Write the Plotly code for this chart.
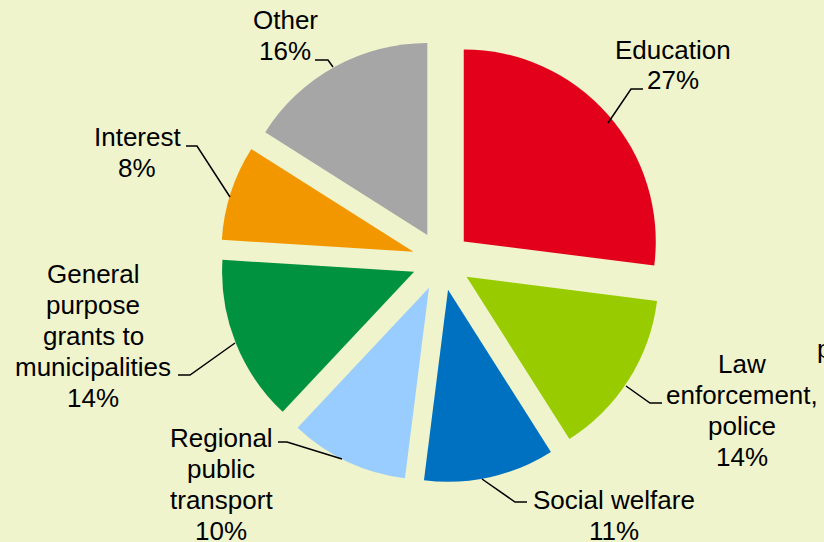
import plotly.graph_objects as go

# Slice data, clockwise from 12 o'clock
categories = [
    "Education",
    "Law enforcement, police",
    "Social welfare",
    "Regional public transport",
    "General purpose grants to municipalities",
    "Interest",
    "Other",
]
shares = [27, 14, 11, 10, 14, 8, 16]
colors = ["#E2001A", "#99CC00", "#0070C0", "#99CCFF", "#00923F", "#F39700", "#A6A6A6"]

# how each label is wrapped (the % line is added from shares)
label_lines = [
    ["Education"],
    ["Law", "enforcement,", "police"],
    ["Social welfare"],
    ["Regional", "public", "transport"],
    ["General", "purpose", "grants to", "municipalities"],
    ["Interest"],
    ["Other"],
]

W, H = 824, 542
BG = "#EFF4CD"
FONT = "Liberation Sans, Arial, sans-serif"


def px(x):
    return x / W


def py(y):
    return 1 - y / H


# label block centres and leader lines, in pixels
label_pos = [(673, 65), (742, 410), (614, 515), (221, 484), (93, 336), (137, 153), (285, 36)]
leaders = [
    [(643, 89), (631, 89), (608, 123)],
    [(662, 403), (650, 403), (626, 386)],
    [(527, 502), (515, 502), (482, 479)],
    [(278, 442), (287, 442), (342, 459)],
    [(178, 375), (190, 375), (235, 343)],
    [(186, 146), (197, 146), (230, 197)],
    [(315, 60), (328, 60), (333, 67)],
]
line_gap = 31

fig = go.Figure(
    go.Pie(
        labels=categories,
        values=shares,
        sort=False,
        direction="clockwise",
        rotation=0,
        pull=0.154,
        marker=dict(colors=colors, line=dict(width=0)),
        textinfo="none",
        hoverinfo="label+percent",
        showlegend=False,
        domain=dict(x=[0.267, 0.8048], y=[0.1097, 0.9273]),
    )
)

annotations = []
for lines, share, (cx, cy) in zip(label_lines, shares, label_pos):
    all_lines = lines + [f"{share}%"]
    top = cy - line_gap * (len(all_lines) - 1) / 2
    for i, txt in enumerate(all_lines):
        annotations.append(dict(
            x=px(cx), y=py(top + i * line_gap), xref="paper", yref="paper",
            text=txt, showarrow=False, xanchor="center", yanchor="middle",
            font=dict(family=FONT, size=26, color="#000000"),
        ))

# clipped text fragment at right edge
annotations.append(dict(
    x=px(815), y=py(349), xref="paper", yref="paper", text="p",
    showarrow=False, xanchor="left", yanchor="middle",
    font=dict(family=FONT, size=26, color="#000000"),
))

shapes = []
for pts in leaders:
    path = "M " + " L ".join(f"{px(x)},{py(y)}" for x, y in pts)
    shapes.append(dict(type="path", xref="paper", yref="paper", path=path,
                       line=dict(color="#000000", width=1.5)))

fig.update_layout(
    width=W,
    height=H,
    margin=dict(l=0, r=0, t=0, b=0, pad=0),
    paper_bgcolor=BG,
    plot_bgcolor=BG,
    annotations=annotations,
    shapes=shapes,
)

fig.write_html(
    "out.html",
    config={"displayModeBar": False},
    post_script="document.body.style.margin='0';document.body.style.background='" + BG + "';",
)
